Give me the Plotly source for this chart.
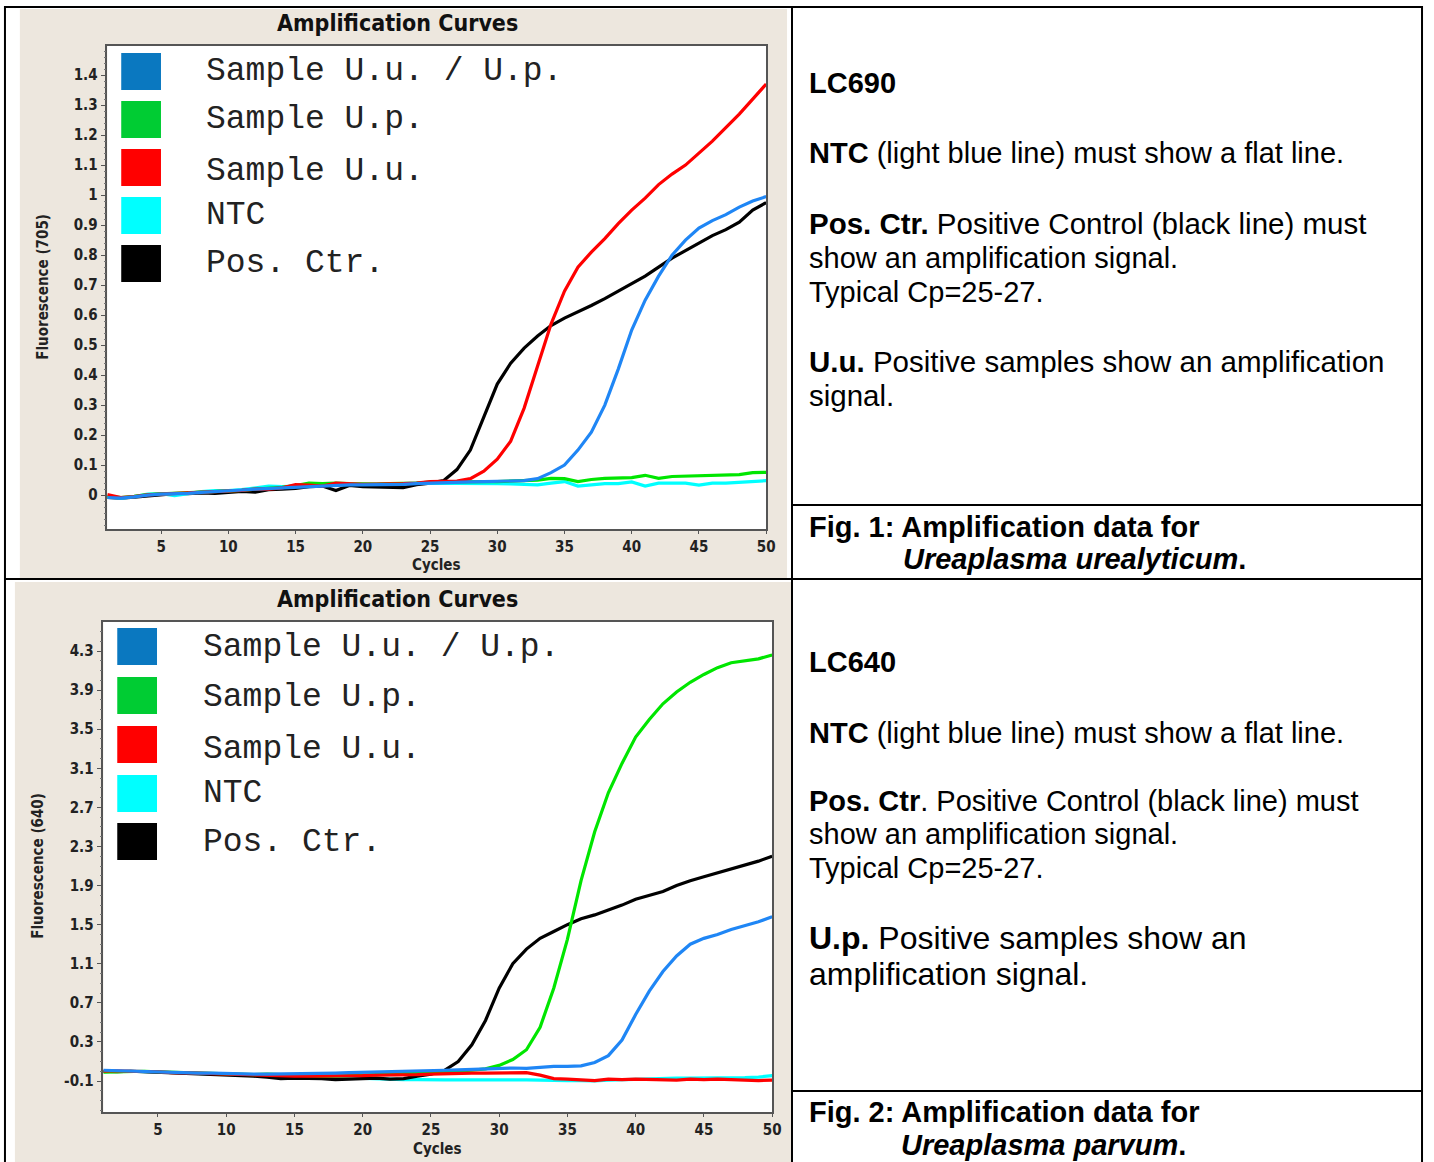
import plotly.graph_objects as go

W, H = 1434, 1162

cycles = list(range(1, 51))
series_names = ["Sample U.u. / U.p.", "Sample U.p.", "Sample U.u.", "NTC", "Pos. Ctr."]
legend_colors = ["#0a78c0", "#00cc33", "#ff0000", "#00ffff", "#000000"]
line_colors = ["#1f86f5", "#00e600", "#ff0000", "#00ffff", "#000000"]

# ---- LC690 (Fig. 1) ----
lc690_uu_up = [-0.008, -0.01, -0.006, 0.0, 0.003, 0.004, 0.006, 0.009, 0.011, 0.013,
               0.017, 0.02, 0.022, 0.025, 0.028, 0.03, 0.032, 0.034, 0.034, 0.034,
               0.034, 0.035, 0.036, 0.038, 0.04, 0.042, 0.043, 0.044, 0.045, 0.046,
               0.046, 0.048, 0.055, 0.075, 0.1, 0.15, 0.21, 0.3, 0.42, 0.55,
               0.65, 0.73, 0.8, 0.85, 0.89, 0.915, 0.935, 0.96, 0.98, 0.995]
lc690_up = [-0.003, -0.008, -0.004, 0.002, 0.004, 0.006, 0.007, 0.01, 0.011, 0.013,
            0.016, 0.02, 0.023, 0.026, 0.032, 0.04, 0.038, 0.04, 0.038, 0.037,
            0.037, 0.038, 0.038, 0.04, 0.043, 0.044, 0.044, 0.045, 0.045, 0.045,
            0.046, 0.048, 0.05, 0.056, 0.055, 0.045, 0.052, 0.056, 0.058, 0.058,
            0.066, 0.056, 0.062, 0.063, 0.065, 0.066, 0.066, 0.068, 0.075, 0.076]
lc690_uu = [0.002, -0.008, -0.005, 0.001, 0.003, 0.005, 0.007, 0.01, 0.012, 0.013,
            0.016, 0.02, 0.02, 0.024, 0.035, 0.033, 0.03, 0.04, 0.038, 0.036,
            0.037, 0.037, 0.038, 0.04, 0.045, 0.046, 0.047, 0.055, 0.08, 0.12,
            0.18, 0.29, 0.43, 0.57, 0.68, 0.76, 0.81, 0.855, 0.905, 0.95,
            0.99, 1.035, 1.07, 1.1, 1.14, 1.18, 1.225, 1.27, 1.32, 1.37]
lc690_ntc = [-0.005, -0.01, -0.005, 0.003, 0.005, -0.002, 0.005, 0.012, 0.015, 0.015,
             0.018, 0.025, 0.03, 0.028, 0.03, 0.032, 0.033, 0.035, 0.036, 0.036,
             0.036, 0.037, 0.038, 0.04, 0.04, 0.04, 0.04, 0.04, 0.039, 0.038,
             0.037, 0.035, 0.034, 0.04, 0.045, 0.03, 0.035, 0.038, 0.038, 0.044,
             0.03, 0.04, 0.04, 0.04, 0.033, 0.04, 0.04, 0.042, 0.045, 0.048]
lc690_pos = [-0.008, -0.01, -0.007, -0.003, 0.002, 0.005, 0.005, 0.007, 0.006, 0.01,
             0.012, 0.01, 0.018, 0.02, 0.022, 0.028, 0.03, 0.015, 0.032, 0.028,
             0.027, 0.028, 0.025, 0.035, 0.04, 0.048, 0.085, 0.15, 0.26, 0.37,
             0.44, 0.49, 0.53, 0.565, 0.59, 0.61, 0.632, 0.655, 0.68, 0.705,
             0.73, 0.76, 0.79, 0.815, 0.84, 0.865, 0.885, 0.91, 0.95, 0.975]

# ---- LC640 (Fig. 2) ----
lc640_uu_up = [0.01, 0.005, 0.0, 0.0, -0.005, -0.01, -0.015, -0.02, -0.02, -0.025,
               -0.028, -0.03, -0.03, -0.028, -0.03, -0.03, -0.025, -0.02, -0.015, -0.012,
               -0.01, -0.008, -0.005, 0.0, 0.005, 0.01, 0.015, 0.02, 0.025, 0.03,
               0.033, 0.03, 0.04, 0.05, 0.05, 0.055, 0.09, 0.16, 0.32, 0.58,
               0.82, 1.02, 1.18, 1.3, 1.36, 1.4, 1.45, 1.49, 1.53, 1.58]
lc640_up = [-0.01, -0.005, 0.0, 0.0, -0.005, -0.01, -0.015, -0.02, -0.025, -0.03,
            -0.035, -0.035, -0.03, -0.035, -0.045, -0.05, -0.05, -0.05, -0.045, -0.04,
            -0.04, -0.035, -0.03, -0.02, -0.015, -0.005, 0.0, 0.01, 0.025, 0.06,
            0.12, 0.22, 0.45, 0.85, 1.35, 1.95, 2.45, 2.85, 3.15, 3.42,
            3.6, 3.76, 3.88, 3.98, 4.06, 4.13, 4.18, 4.2, 4.22, 4.26]
lc640_uu = [0.0, 0.005, 0.0, 0.0, -0.005, -0.015, -0.015, -0.02, -0.025, -0.03,
            -0.035, -0.04, -0.045, -0.045, -0.05, -0.05, -0.05, -0.05, -0.045, -0.045,
            -0.04, -0.04, -0.035, -0.035, -0.03, -0.025, -0.022, -0.02, -0.02, -0.018,
            -0.015, -0.015, -0.04, -0.075, -0.08, -0.09, -0.095, -0.08, -0.085, -0.08,
            -0.085, -0.085, -0.09, -0.08, -0.085, -0.08, -0.085, -0.09, -0.095, -0.09]
lc640_ntc = [-0.005, 0.0, 0.0, -0.005, -0.01, -0.015, -0.015, -0.02, -0.025, -0.03,
             -0.035, -0.04, -0.04, -0.045, -0.05, -0.055, -0.06, -0.06, -0.065, -0.07,
             -0.075, -0.085, -0.085, -0.085, -0.09, -0.088, -0.088, -0.09, -0.09, -0.09,
             -0.088, -0.088, -0.09, -0.1, -0.095, -0.095, -0.1, -0.09, -0.085, -0.08,
             -0.075, -0.075, -0.07, -0.07, -0.07, -0.07, -0.068, -0.065, -0.06, -0.045]
lc640_pos = [0.0, -0.005, 0.0, -0.005, -0.01, -0.02, -0.02, -0.025, -0.03, -0.035,
             -0.04, -0.05, -0.06, -0.075, -0.07, -0.07, -0.075, -0.085, -0.08, -0.08,
             -0.07, -0.08, -0.075, -0.05, -0.03, 0.01, 0.1, 0.27, 0.52, 0.85,
             1.1, 1.25, 1.36, 1.43, 1.5, 1.56, 1.6, 1.65, 1.7, 1.76,
             1.8, 1.84, 1.9, 1.95, 1.99, 2.03, 2.07, 2.11, 2.15, 2.2]

x_tickvals = [5, 10, 15, 20, 25, 30, 35, 40, 45, 50]
lc690_ytickvals = [0, 0.1, 0.2, 0.3, 0.4, 0.5, 0.6, 0.7, 0.8, 0.9, 1.0, 1.1, 1.2, 1.3, 1.4]
lc690_yticktext = ["0", "0.1", "0.2", "0.3", "0.4", "0.5", "0.6", "0.7", "0.8", "0.9",
                   "1", "1.1", "1.2", "1.3", "1.4"]
lc640_ytickvals = [-0.1, 0.3, 0.7, 1.1, 1.5, 1.9, 2.3, 2.7, 3.1, 3.5, 3.9, 4.3]
lc640_yticktext = ["-0.1", "0.3", "0.7", "1.1", "1.5", "1.9", "2.3", "2.7", "3.1", "3.5", "3.9", "4.3"]

lc690_series = [lc690_uu_up, lc690_up, lc690_uu, lc690_ntc, lc690_pos]
lc640_series = [lc640_uu_up, lc640_up, lc640_uu, lc640_ntc, lc640_pos]
lc690_order = [4, 3, 1, 2, 0]
lc640_order = [3, 4, 1, 2, 0]


def px(x):
    return x / W


def py(y):
    return 1 - y / H


fig = go.Figure()

for i in lc690_order:
    fig.add_trace(go.Scatter(x=cycles, y=lc690_series[i], mode="lines", name=series_names[i],
                             line=dict(color=line_colors[i], width=3.2), xaxis="x", yaxis="y",
                             showlegend=False))
for i in lc640_order:
    fig.add_trace(go.Scatter(x=cycles, y=lc640_series[i], mode="lines", name=series_names[i],
                             line=dict(color=line_colors[i], width=3.2), xaxis="x2", yaxis="y2",
                             showlegend=False))

narrow = "Liberation Sans Narrow, DejaVu Sans Condensed, Liberation Sans"
tick_font = dict(family=narrow, size=15, color="#222", weight="bold")

# plot boxes in pixels: (left, top, right, bottom)
box1 = (108, 46, 771, 529)
box2 = (104, 622, 777, 1112)

axis_common = dict(showgrid=False, zeroline=False, showline=True, mirror=True,
                   linecolor="#555", linewidth=1.5, ticks="outside",
                   tickcolor="#555", tickfont=tick_font)

fig.update_layout(
    width=W, height=H, margin=dict(l=0, r=0, t=0, b=0),
    paper_bgcolor="white", plot_bgcolor="rgba(0,0,0,0)",
    xaxis=dict(domain=[px(box1[0]), px(box1[2])], range=[1, 50], tickvals=x_tickvals,
               anchor="y", ticklen=3, **axis_common),
    yaxis=dict(domain=[py(box1[3]), py(box1[1])], range=[-0.113, 1.497],
               tickvals=lc690_ytickvals, ticktext=lc690_yticktext, anchor="x", ticklen=5,
               minor=dict(dtick=0.02, tick0=0, ticklen=2, ticks="outside", tickcolor="#777"),
               **axis_common),
    xaxis2=dict(domain=[px(box2[0]), px(box2[2])], range=[1, 50], tickvals=x_tickvals,
                anchor="y2", ticklen=3, **axis_common),
    yaxis2=dict(domain=[py(box2[3]), py(box2[1])], range=[-0.417, 4.597],
                tickvals=lc640_ytickvals, ticktext=lc640_yticktext, anchor="x2", ticklen=5,
                minor=dict(dtick=0.1, tick0=-0.1, ticklen=2, ticks="outside", tickcolor="#777"),
                **axis_common),
)

shapes = []
beige = "#ede7de"
# beige panels
shapes.append(dict(type="rect", xref="paper", yref="paper", x0=px(20), x1=px(792), y0=py(578), y1=py(9),
                   fillcolor=beige, line=dict(width=0), layer="below"))
shapes.append(dict(type="rect", xref="paper", yref="paper", x0=px(15), x1=px(796), y0=py(1162), y1=py(582),
                   fillcolor=beige, line=dict(width=0), layer="below"))
# white plot areas
for b in (box1, box2):
    shapes.append(dict(type="rect", xref="paper", yref="paper", x0=px(b[0]), x1=px(b[2]),
                       y0=py(b[3]), y1=py(b[1]), fillcolor="white", line=dict(width=0), layer="below"))


# table lines
def hline(y, x0, x1):
    shapes.append(dict(type="line", xref="paper", yref="paper", x0=px(x0), x1=px(x1), y0=py(y), y1=py(y),
                       line=dict(color="black", width=2), layer="above"))


def vline(x, y0, y1):
    shapes.append(dict(type="line", xref="paper", yref="paper", x0=px(x), x1=px(x), y0=py(y0), y1=py(y1),
                       line=dict(color="black", width=2), layer="above"))


hline(7, 5, 1432)
hline(579, 5, 1432)
hline(505, 797, 1432)
hline(1091, 797, 1432)
vline(5, 6, 1162)
vline(797, 6, 1162)
vline(1431, 6, 1162)

annotations = []

# legends (colored squares + monospace labels)
leg1_tops = [53, 101, 149, 197, 245]
leg1_text_y = [71, 120, 172, 215, 263]
leg2_tops = [628, 677, 726, 775, 823]
leg2_text_y = [647, 697, 749, 793, 842]
mono = dict(family="Liberation Mono, Courier New, monospace", size=33, color="#222")
for i in range(5):
    shapes.append(dict(type="rect", xref="paper", yref="paper", x0=px(122), x1=px(162),
                       y0=py(leg1_tops[i] + 37), y1=py(leg1_tops[i]), fillcolor=legend_colors[i],
                       line=dict(width=0), layer="above"))
    shapes.append(dict(type="rect", xref="paper", yref="paper", x0=px(118), x1=px(158),
                       y0=py(leg2_tops[i] + 37), y1=py(leg2_tops[i]), fillcolor=legend_colors[i],
                       line=dict(width=0), layer="above"))
    annotations.append(dict(x=px(205), y=py(leg1_text_y[i]), xref="paper", yref="paper",
                            text=series_names[i], showarrow=False, xanchor="left", yanchor="middle",
                            font=mono))
    annotations.append(dict(x=px(202), y=py(leg2_text_y[i]), xref="paper", yref="paper",
                            text=series_names[i], showarrow=False, xanchor="left", yanchor="middle",
                            font=mono))

title_font = dict(family=narrow, size=23, color="#111", weight="bold")
small_font = dict(family=narrow, size=15, color="#222", weight="bold")
for (x, y, t, f, ang) in [
    (400, 23, "Amplification Curves", title_font, 0),
    (400, 599, "Amplification Curves", title_font, 0),
    (439, 565, "Cycles", small_font, 0),
    (440, 1149, "Cycles", small_font, 0),
    (43, 287, "Fluorescence (705)", small_font, -90),
    (38, 866, "Fluorescence (640)", small_font, -90),
]:
    annotations.append(dict(x=px(x), y=py(y), xref="paper", yref="paper", text=t, showarrow=False,
                            xanchor="center", yanchor="middle", font=f, textangle=ang))


# right column text
def rtext(y, t, size=29, x=812):
    annotations.append(dict(x=px(x), y=py(y), xref="paper", yref="paper", text=t, showarrow=False,
                            xanchor="left", yanchor="middle",
                            font=dict(family="Liberation Sans, Arial, sans-serif", size=size, color="black")))


rtext(83, "<b>LC690</b>")
rtext(153, "<b>NTC</b> (light blue line) must show a flat line.")
rtext(223, "<b>Pos. Ctr.</b> Positive Control (black line) must", size=29.5)
rtext(258, "show an amplification signal.")
rtext(292, "Typical Cp=25-27.")
rtext(361, "<b>U.u.</b> Positive samples show an amplification", size=29.5)
rtext(396, "signal.", size=29.5)
rtext(527, "<b>Fig. 1: Amplification data for</b>")
rtext(559, "<b><i>Ureaplasma urealyticum</i>.</b>", x=907)

rtext(662, "<b>LC640</b>")
rtext(733, "<b>NTC</b> (light blue line) must show a flat line.")
rtext(801, "<b>Pos. Ctr</b>. Positive Control (black line) must")
rtext(834, "show an amplification signal.")
rtext(868, "Typical Cp=25-27.")
rtext(938, "<b>U.p.</b> Positive samples show an", size=32)
rtext(974, "amplification signal.", size=32)
rtext(1112, "<b>Fig. 2: Amplification data for</b>")
rtext(1145, "<b><i>Ureaplasma parvum</i>.</b>", x=905)

fig.update_layout(shapes=shapes, annotations=annotations)

fig.write_html("out.html")
